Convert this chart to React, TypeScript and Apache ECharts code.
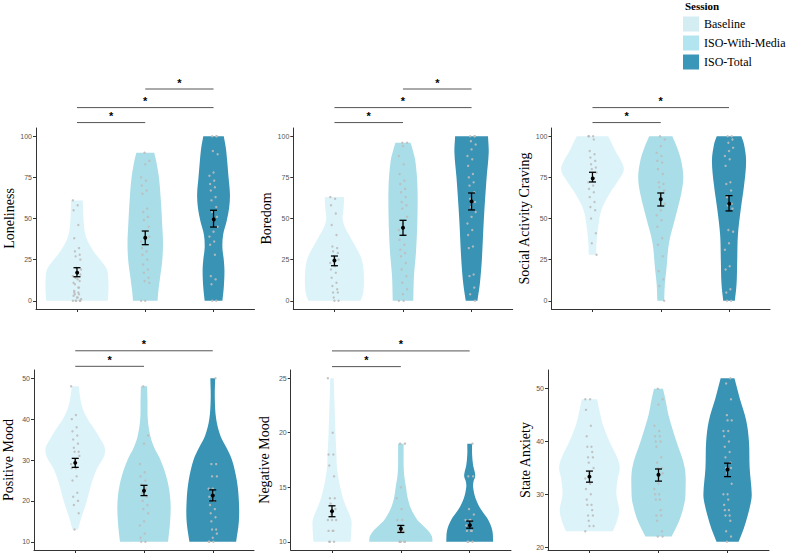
import React, { useEffect, useRef } from "react";
import * as echarts from "echarts";

// ---------- categories / legend ----------
const SESSIONS = ["Baseline", "ISO-With-Media", "ISO-Total"];
const VIOLIN_COLORS = ["#dcf4f9", "#a9dde8", "#3893b5"];
const LEGEND_COLORS = ["#d3edf2", "#b3e5f0", "#3b97b9"];

// ---------- axes ----------
const Y_MIN = [-5, -5, -5, 8, 9.25, 19.45];
const Y_MAX = [105, 105, 105, 52, 25.75, 53.55];
const Y_TICKS = [
  [0, 25, 50, 75, 100],
  [0, 25, 50, 75, 100],
  [0, 25, 50, 75, 100],
  [10, 20, 30, 40, 50],
  [10, 15, 20, 25],
  [20, 30, 40, 50],
];
const X_TICKS = [1, 2, 3];

// ---------- Loneliness ----------
const LONELINESS_POINTS = [
  [61, 58, 55, 46, 38, 32, 30, 28, 27, 25, 20, 19, 17, 15, 13, 11, 8, 5, 4, 4, 0, 0, 0, 0, 1, 2, 0, 2, 3, 5, 6, 8, 10, 12, 14, 16],
  [90, 85, 83, 75, 73, 70, 67, 65, 56, 54, 51, 49, 45, 42, 39, 37, 36, 34, 32, 30, 28, 25, 22, 19, 17, 14, 12, 11, 0, 0],
  [100, 100, 100, 91, 89, 78, 76, 73, 71, 69, 67, 63, 61, 57, 54, 51, 49, 45, 42, 39, 36, 34, 28, 15, 13, 10, 0, 0],
];
const LONELINESS_VIOLIN = [
  [[0, 0.45], [5, 0.46], [12, 0.46], [19, 0.44], [25, 0.34], [29, 0.26], [33, 0.2], [38, 0.14], [43, 0.11], [50, 0.095], [55, 0.09], [61, 0.085]],
  [[0, 0.18], [5, 0.19], [15, 0.22], [25, 0.25], [35, 0.26], [45, 0.25], [60, 0.23], [75, 0.2], [85, 0.16], [90, 0.13]],
  [[0, 0.13], [8, 0.15], [18, 0.16], [25, 0.15], [32, 0.13], [40, 0.14], [48, 0.19], [57, 0.23], [65, 0.24], [75, 0.22], [85, 0.2], [93, 0.18], [100, 0.15]],
];
const LONELINESS_STATS = [[17.6, 14.6, 20.1], [38.3, 34.1, 42.4], [49.9, 44.8, 55]];
const LONELINESS_SIG = [[2, 3, 128.7], [1, 3, 117.4], [1, 2, 108.3]];

// ---------- Boredom ----------
const BOREDOM_POINTS = [
  [63, 62, 58, 53, 46, 40, 33, 32, 30, 29, 27, 25, 24, 23, 21, 19, 17, 14, 11, 9, 7, 5, 5, 2, 0, 0],
  [96, 96, 94, 88, 83, 77, 73, 71, 68, 66, 63, 60, 58, 56, 51, 47, 43, 40, 37, 34, 31, 29, 27, 23, 19, 15, 11, 7, 4, 0, 0],
  [100, 100, 100, 97, 95, 92, 88, 86, 82, 77, 75, 72, 70, 66, 62, 60, 57, 54, 51, 47, 43, 40, 33, 32, 16, 15, 8, 4, 0],
];
const BOREDOM_VIOLIN = [
  [[0, 0.38], [5, 0.42], [15, 0.43], [25, 0.4], [32, 0.32], [38, 0.24], [45, 0.15], [50, 0.12], [55, 0.13], [60, 0.14], [63, 0.14]],
  [[0, 0.15], [15, 0.16], [30, 0.19], [50, 0.21], [70, 0.21], [85, 0.18], [92, 0.14], [96, 0.11]],
  [[0, 0.085], [10, 0.12], [25, 0.15], [50, 0.18], [75, 0.22], [90, 0.25], [100, 0.24]],
];
const BOREDOM_STATS = [[24.5, 21.3, 27.2], [44.4, 39.8, 48.9], [60.4, 55.2, 65.5]];
const BOREDOM_SIG = [[2, 3, 128.7], [1, 3, 117.4], [1, 2, 108.3]];

// ---------- Social Activity Craving ----------
const CRAVING_POINTS = [
  [100, 100, 100, 98, 91, 89, 87, 85, 83, 81, 80, 78, 74, 72, 70, 68, 66, 63, 60, 57, 55, 50, 41, 35, 28],
  [100, 98, 94, 90, 88, 85, 84, 80, 77, 72, 71, 69, 67, 64, 59, 55, 52, 49, 45, 38, 34, 27, 18, 13, 9, 0],
  [100, 100, 98, 96, 93, 91, 88, 86, 82, 72, 71, 67, 63, 59, 58, 56, 43, 42, 35, 31, 21, 19, 7, 5, 0, 0],
];
const CRAVING_VIOLIN = [
  [[28, 0.055], [35, 0.06], [45, 0.085], [55, 0.13], [65, 0.25], [75, 0.41], [80, 0.46], [85, 0.42], [90, 0.35], [95, 0.29], [100, 0.23]],
  [[0, 0.05], [10, 0.06], [20, 0.085], [35, 0.12], [50, 0.21], [65, 0.3], [75, 0.33], [85, 0.3], [93, 0.24], [100, 0.17]],
  [[0, 0.085], [10, 0.11], [25, 0.12], [40, 0.13], [55, 0.17], [70, 0.22], [85, 0.25], [95, 0.22], [100, 0.18]],
];
const CRAVING_STATS = [[75, 72.2, 78.1], [61.7, 57.6, 65.5], [59.6, 54.6, 63.9]];
const CRAVING_SIG = [[1, 3, 117.4], [1, 2, 108.3]];

// ---------- Positive Mood ----------
const POSITIVE_POINTS = [
  [48, 41, 40, 38, 37, 36, 35, 34, 33, 32, 32, 31, 30, 29, 28, 28, 26, 25, 22, 21, 20, 19, 17, 13],
  [48, 36, 34, 29, 27, 26, 25, 24, 23, 22, 21, 20, 19, 18, 17, 15, 14, 12, 11, 10, 10],
  [50, 29, 29, 26, 26, 23, 23, 22, 21, 20, 19, 18, 17, 16, 15, 13, 13, 12, 11, 10, 10, 10],
];
const POSITIVE_VIOLIN = [
  [[13, 0.04], [16, 0.09], [19, 0.15], [22, 0.2], [25, 0.25], [28, 0.32], [31, 0.42], [33, 0.43], [35, 0.37], [38, 0.26], [40, 0.18], [43, 0.1], [46, 0.065], [48, 0.05]],
  [[10, 0.35], [15, 0.38], [20, 0.385], [25, 0.34], [30, 0.24], [33, 0.15], [36, 0.09], [40, 0.055], [45, 0.05], [48, 0.045]],
  [[10, 0.34], [15, 0.38], [20, 0.38], [25, 0.35], [30, 0.28], [33, 0.2], [36, 0.11], [40, 0.05], [45, 0.03], [50, 0.035]],
];
const POSITIVE_STATS = [[29.3, 28.2, 30.4], [22.5, 21.3, 23.8], [21.3, 20.0, 22.7]];
const POSITIVE_SIG = [[1, 3, 56.7], [1, 2, 52.9]];

// ---------- Negative Mood ----------
const NEGATIVE_POINTS = [
  [25, 20, 18, 18, 17, 16, 14, 14, 13.5, 13, 12.5, 12, 12, 12, 11, 11, 11, 10, 10, 10],
  [19, 19, 15, 14, 13, 12, 12, 11.5, 11, 11, 11, 10, 10, 10, 10, 10],
  [19, 16, 16, 13, 12.5, 12, 12, 12, 11.5, 11, 11, 11, 10, 10, 10],
];
const NEGATIVE_VIOLIN = [
  [[10, 0.27], [11, 0.28], [12, 0.28], [13, 0.22], [14, 0.16], [15, 0.12], [16, 0.09], [17, 0.07], [18, 0.065], [20, 0.05], [22, 0.04], [25, 0.025]],
  [[10, 0.46], [10.5, 0.45], [11, 0.4], [11.5, 0.32], [12, 0.24], [13, 0.15], [14, 0.1], [15, 0.075], [16, 0.05], [17, 0.04], [18, 0.04], [19, 0.04]],
  [[10, 0.34], [11, 0.33], [12, 0.27], [13, 0.16], [14, 0.085], [15, 0.05], [15.5, 0.055], [16, 0.08], [16.5, 0.07], [17, 0.05], [18, 0.035], [19, 0.035]],
];
const NEGATIVE_STATS = [[12.8, 12.3, 13.3], [11.2, 10.86, 11.5], [11.6, 11.25, 11.9]];
const NEGATIVE_SIG = [[1, 3, 27.5], [1, 2, 26.06]];

// ---------- State Anxiety ----------
const ANXIETY_POINTS = [
  [48, 48, 46, 43, 41, 39, 39, 38, 37, 37, 36, 35, 34, 33, 32, 31, 30, 29, 28, 28, 27, 26, 26, 25, 24, 24, 23],
  [50, 48, 47, 43, 42, 41, 41, 40, 40, 39, 37, 36, 35, 35, 34, 32, 31, 30, 30, 29, 29, 27, 26, 26, 25, 23, 22, 22],
  [52, 51, 48, 45, 44, 44, 42, 42, 41, 40, 39, 38, 37, 36, 35, 35, 34, 32, 30, 30, 29, 28, 27, 27, 26, 26, 25, 23, 22, 21],
];
const ANXIETY_VIOLIN = [
  [[23, 0.34], [25, 0.4], [27, 0.43], [30, 0.39], [33, 0.41], [35, 0.44], [37, 0.4], [40, 0.29], [43, 0.2], [45, 0.16], [48, 0.11]],
  [[22, 0.19], [25, 0.3], [28, 0.37], [30, 0.39], [35, 0.38], [40, 0.26], [45, 0.145], [48, 0.1], [50, 0.065]],
  [[21, 0.16], [23, 0.22], [25, 0.27], [28, 0.33], [30, 0.35], [35, 0.32], [40, 0.31], [44, 0.27], [48, 0.18], [50, 0.14], [52, 0.1]],
];
const ANXIETY_STATS = [[33.35, 32.3, 34.4], [33.7, 32.5, 34.8], [34.7, 33.35, 35.9]];
const ANXIETY_SIG: number[][] = [];

const PANELS = [
  { title: "Loneliness", points: LONELINESS_POINTS, violin: LONELINESS_VIOLIN, stats: LONELINESS_STATS, sig: LONELINESS_SIG },
  { title: "Boredom", points: BOREDOM_POINTS, violin: BOREDOM_VIOLIN, stats: BOREDOM_STATS, sig: BOREDOM_SIG },
  { title: "Social Activity Craving", points: CRAVING_POINTS, violin: CRAVING_VIOLIN, stats: CRAVING_STATS, sig: CRAVING_SIG },
  { title: "Positive Mood", points: POSITIVE_POINTS, violin: POSITIVE_VIOLIN, stats: POSITIVE_STATS, sig: POSITIVE_SIG },
  { title: "Negative Mood", points: NEGATIVE_POINTS, violin: NEGATIVE_VIOLIN, stats: NEGATIVE_STATS, sig: NEGATIVE_SIG },
  { title: "State Anxiety", points: ANXIETY_POINTS, violin: ANXIETY_VIOLIN, stats: ANXIETY_STATS, sig: ANXIETY_SIG },
];

// ---------- layout (pixels) ----------
const GRID_BOXES = [
  [36, 128, 218.5, 181],
  [293.3, 128, 219.4, 181],
  [551.5, 128, 218.5, 181],
  [32.3, 370, 221.7, 180],
  [290.7, 370, 220.3, 180],
  [548, 370, 221, 180],
];
const NAME_GAPS = [19, 19, 19, 19, 19, 16];

const SERIF = "'Liberation Serif', 'Times New Roman', serif";
const SANS = "'Liberation Sans', Arial, sans-serif";

function jitter(i: number, g: number) {
  return ((((i * 7 + g * 5) % 13) / 12) - 0.5) * 0.12;
}

function buildOption() {
  const grid: any[] = [];
  const xAxis: any[] = [];
  const yAxis: any[] = [];
  const series: any[] = [];

  PANELS.forEach((panel, p) => {
    const [l, t, w, h] = GRID_BOXES[p];
    grid.push({ left: l, top: t, width: w, height: h, containLabel: false });
    xAxis.push({
      gridIndex: p,
      type: "value",
      min: 0.4,
      max: 3.6,
      axisLine: { show: true, onZero: false, lineStyle: { color: "#333", width: 1 } },
      axisTick: { show: true, length: 3, customValues: X_TICKS, lineStyle: { color: "#333" } },
      axisLabel: { show: false },
      splitLine: { show: false },
    });
    yAxis.push({
      gridIndex: p,
      type: "value",
      min: Y_MIN[p],
      max: Y_MAX[p],
      name: panel.title,
      nameLocation: "middle",
      nameGap: NAME_GAPS[p],
      nameTextStyle: { fontFamily: SERIF, fontSize: 14, color: "#000" },
      axisLine: { show: true, onZero: false, lineStyle: { color: "#333", width: 1 } },
      axisTick: { show: true, length: 3, customValues: Y_TICKS[p], lineStyle: { color: "#333" } },
      axisLabel: { customValues: Y_TICKS[p], fontSize: 7, color: "#555", margin: 4, fontFamily: SANS },
      splitLine: { show: false },
    });

    // violins
    SESSIONS.forEach((s, g) => {
      const prof = panel.violin[g];
      series.push({
        type: "custom",
        name: s,
        xAxisIndex: p,
        yAxisIndex: p,
        z: 1,
        silent: true,
        itemStyle: { color: VIOLIN_COLORS[g] },
        data: [[g + 1, prof[0][0]]],
        renderItem: (_params: any, api: any) => {
          const cx = g + 1;
          const right = prof.map(([v, hw]) => api.coord([cx + hw, v]));
          const left = prof
            .slice()
            .reverse()
            .map(([v, hw]) => api.coord([cx - hw, v]));
          const pts = [right[0], ...right, right[right.length - 1], left[0], ...left, left[left.length - 1]];
          return {
            type: "polygon",
            shape: { points: pts, smooth: 0.35 },
            style: { fill: VIOLIN_COLORS[g], stroke: null },
          };
        },
      });
    });

    // jittered points
    const pts: number[][] = [];
    panel.points.forEach((arr, g) => {
      arr.forEach((v, i) => pts.push([g + 1 + jitter(i, g), v]));
    });
    series.push({
      type: "scatter",
      name: "points-" + p,
      xAxisIndex: p,
      yAxisIndex: p,
      z: 2,
      silent: true,
      symbol: "circle",
      symbolSize: 2.4,
      itemStyle: { color: "#bdbdbd", opacity: 0.9 },
      data: pts,
    });

    // mean +/- SE
    series.push({
      type: "custom",
      name: "stats-" + p,
      xAxisIndex: p,
      yAxisIndex: p,
      z: 3,
      silent: true,
      data: panel.stats.map((s, g) => [g + 1, s[0], s[1], s[2]]),
      renderItem: (_params: any, api: any) => {
        const x = api.value(0);
        const m = api.coord([x, api.value(1)]);
        const lo = api.coord([x, api.value(2)]);
        const hi = api.coord([x, api.value(3)]);
        const st = { stroke: "#000", lineWidth: 1.3 };
        return {
          type: "group",
          children: [
            { type: "line", shape: { x1: lo[0], y1: lo[1], x2: hi[0], y2: hi[1] }, style: st },
            { type: "line", shape: { x1: lo[0] - 3.5, y1: lo[1], x2: lo[0] + 3.5, y2: lo[1] }, style: st },
            { type: "line", shape: { x1: hi[0] - 3.5, y1: hi[1], x2: hi[0] + 3.5, y2: hi[1] }, style: st },
            { type: "circle", shape: { cx: m[0], cy: m[1], r: 2 }, style: { fill: "#000" } },
          ],
        };
      },
    });

    // significance brackets
    if (panel.sig.length) {
      series.push({
        type: "custom",
        name: "sig-" + p,
        xAxisIndex: p,
        yAxisIndex: p,
        z: 4,
        clip: false,
        silent: true,
        data: panel.sig,
        renderItem: (_params: any, api: any) => {
          const a = api.coord([api.value(0), api.value(2)]);
          const b = api.coord([api.value(1), api.value(2)]);
          return {
            type: "group",
            children: [
              { type: "line", shape: { x1: a[0], y1: a[1], x2: b[0], y2: b[1] }, style: { stroke: "#555", lineWidth: 1 } },
              {
                type: "text",
                x: (a[0] + b[0]) / 2,
                y: a[1] - 1,
                style: { text: "*", fill: "#000", fontSize: 11, fontWeight: "bold", fontFamily: SANS, align: "center", verticalAlign: "bottom" },
              },
            ],
          };
        },
      });
    }
  });

  return {
    animation: false,
    backgroundColor: "#fff",
    grid,
    xAxis,
    yAxis,
    series,
    legend: {
      data: SESSIONS.map((s, g) => ({ name: s, icon: "rect", itemStyle: { color: LEGEND_COLORS[g] } })),
      orient: "vertical",
      left: 683,
      top: 16.5,
      padding: 0,
      itemWidth: 16,
      itemHeight: 15,
      itemGap: 4,
      selectedMode: false,
      textStyle: { fontFamily: SERIF, fontSize: 12, color: "#000" },
    },
    graphic: [
      {
        type: "text",
        left: 685,
        top: 0,
        style: { text: "Session", fontFamily: SERIF, fontSize: 11, fontWeight: "bold", fill: "#000" },
      },
    ],
  };
}

export default function App() {
  const ref = useRef<HTMLDivElement>(null);
  useEffect(() => {
    document.body.style.margin = "0";
    if (!ref.current) return;
    const chart = echarts.init(ref.current, undefined, { renderer: "svg" });
    chart.setOption(buildOption() as any);
    return () => chart.dispose();
  }, []);
  return <div ref={ref} style={{ width: 787, height: 555 }} />;
}
